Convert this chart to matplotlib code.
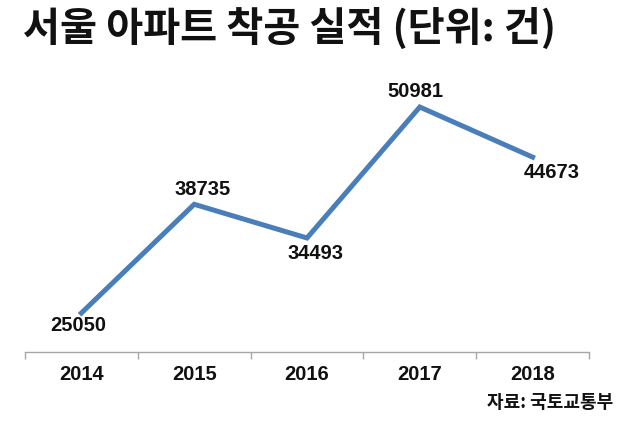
import matplotlib
matplotlib.use("Agg")
import matplotlib.pyplot as plt

# 서울 아파트 착공 실적 (국토교통부)
years = ["2014", "2015", "2016", "2017", "2018"]
starts = [25050, 38735, 34493, 50981, 44673]

# label offsets in points (dx, dy) per point
label_offsets = [(-2, -9), (6, 11), (6, -11), (-3, 11), (14, -11)]

plt.rcParams['font.family'] = ['Liberation Sans', 'DejaVu Sans']

fig = plt.figure(figsize=(6.3, 4.26), dpi=100)
ax = fig.add_axes([25 / 630, 74 / 426, 564 / 630, 292 / 426])

x = list(range(len(years)))
ax.plot(x, starts, color="#4a7ebb", linewidth=3.6, solid_joinstyle="miter")

for i, v in enumerate(starts):
    dx, dy = label_offsets[i]
    ax.annotate(str(v), (x[i], v), xytext=(dx, dy), textcoords="offset points",
                ha="center", va="center", fontsize=14.5, fontweight="bold",
                color="#111111")

ax.set_xlim(-0.5, len(years) - 0.5)
ax.set_ylim(20140, 56900)

for s in ["top", "left", "right"]:
    ax.spines[s].set_visible(False)
ax.spines["bottom"].set_color("#a6a6a6")
ax.spines["bottom"].set_linewidth(1)

ax.set_yticks([])
ax.set_xticks(x)
ax.set_xticklabels(years, fontsize=14.5, fontweight="bold", color="#111111")
ax.set_xticks([i - 0.5 for i in range(len(years) + 1)], minor=True)
ax.tick_params(axis="x", which="major", length=0, pad=9)
ax.tick_params(axis="x", which="minor", length=5, color="#a6a6a6", width=1)

fig.text(23 / 630, 1 - 29 / 426, "서울 아파트 착공 실적 (단위: 건)",
         family=['Noto Sans CJK KR', 'DejaVu Sans'], fontweight="bold",
         fontsize=29, ha="left", va="center", color="#111111")
fig.text(613 / 630, 1 - 402 / 426, "자료: 국토교통부",
         family=['Noto Sans CJK KR', 'DejaVu Sans'], fontweight="bold",
         fontsize=13, ha="right", va="center", color="#111111")

fig.savefig("out.png", dpi=100, facecolor="white")
